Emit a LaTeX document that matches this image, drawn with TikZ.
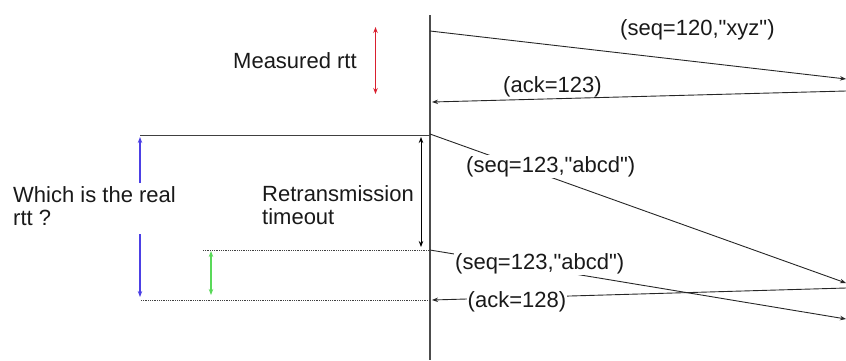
\documentclass[tikz,border=0pt]{standalone}
\usepackage{fontspec}
\setmainfont{Liberation Sans}
\usepackage{xcolor}
\usetikzlibrary{arrows.meta, positioning}
\definecolor{myred}{rgb}{0.85, 0.12, 0.18}
\definecolor{myblue}{rgb}{0.30, 0.25, 0.90}
\definecolor{mygreen}{rgb}{0.35, 0.85, 0.35}
\newcommand{\qt}{\textquotedbl}
\tikzstyle{msg} = [line width=0.9pt, black!85, -{Stealth[length=6pt,width=4.5pt]}]
\tikzstyle{timespan} = [line width=1.1pt, {Stealth[length=6pt,width=4.5pt]}-{Stealth[length=6pt,width=4.5pt]}]
\tikzstyle{halfspan} = [line width=1.1pt, -{Stealth[length=6pt,width=4.5pt]}]
\tikzstyle{lbl} = [font=\fontsize{22}{23}\selectfont, text=black!90, inner sep=1pt]

\begin{document}
\begin{tikzpicture}[x=1pt, y=-1pt, tmark/.style={line width=0.8pt, black!75}]
    \useasboundingbox (0,0) rectangle (846,360);
    % time line of the sender
    \coordinate (top) at (430,15);
    \coordinate (bot) at (430,360);
    \draw[line width=1.3pt, black!70] (top) -- (bot);
    % message ends
    \coordinate (s1) at (430,31);  \coordinate (r1) at (846,79);
    \coordinate (r2) at (846,91);  \coordinate (s2) at (432,102);
    \coordinate (s3) at (430,134); \coordinate (r3) at (846,283);
    \coordinate (s4) at (430,250); \coordinate (r4) at (846,319);
    \coordinate (r5) at (846,288); \coordinate (s5) at (432,300);
    \draw[msg] (s1) -- (r1);
    \draw[msg] (r2) -- (s2);
    \draw[msg] (s3) -- (r3);
    \draw[msg] (s4) -- (r4);
    \draw[msg] (r5) -- (s5);
    % time marks
    \coordinate (m1) at (140,135); \coordinate (m1e) at (430,135);
    \coordinate (m2) at (203,250); \coordinate (m2e) at (430,250);
    \coordinate (m3) at (141,300); \coordinate (m3e) at (430,300);
    \draw[tmark] (m1) -- (m1e);
    \draw[tmark, densely dotted] (m2) -- (m2e);
    \draw[tmark, densely dotted] (m3) -- (m3e);
    % intervals
    \coordinate (red1) at (375.5,27); \coordinate (red2) at (375.5,94);
    \draw[timespan, myred] (red1) -- (red2);
    \coordinate (rto1) at (421,137); \coordinate (rto2) at (421,247);
    \draw[timespan, black, line width=0.8pt] (rto1) -- (rto2);
    \coordinate (grn1) at (211,251); \coordinate (grn2) at (211,295);
    \draw[timespan, mygreen] (grn1) -- (grn2);
    \coordinate (blu1) at (140,183); \coordinate (blu2) at (140,137);
    \coordinate (blu3) at (140,234); \coordinate (blu4) at (140,297);
    \draw[halfspan, myblue] (blu1) -- (blu2);
    \draw[halfspan, myblue] (blu3) -- (blu4);
    % labels
    \node[lbl, anchor=base west] (measured) at (232,68) {Measured rtt};
    \node[lbl, anchor=north west, align=left] (realrtt) at (12,185) {Which is the real\\rtt ?};
    \node[lbl, anchor=north west, align=left] (rto) at (261,184) {Retransmission\\timeout};
    \node[lbl, anchor=base west] (seq120) at (619,35.5) {(seq=120,\qt xyz\qt)};
    \node[lbl, anchor=base west] (ack123) at (502,92) {(ack=123)};
    \node[lbl, anchor=base west, fill=white] (seq123a) at (465,172) {(seq=123,\qt abcd\qt)};
    \node[lbl, anchor=base west, fill=white] (seq123b) at (454,269.5) {(seq=123,\qt abcd\qt)};
    \node[lbl, anchor=base west, fill=white] (ack128) at (466.5,307) {(ack=128)};
\end{tikzpicture}
\end{document}
